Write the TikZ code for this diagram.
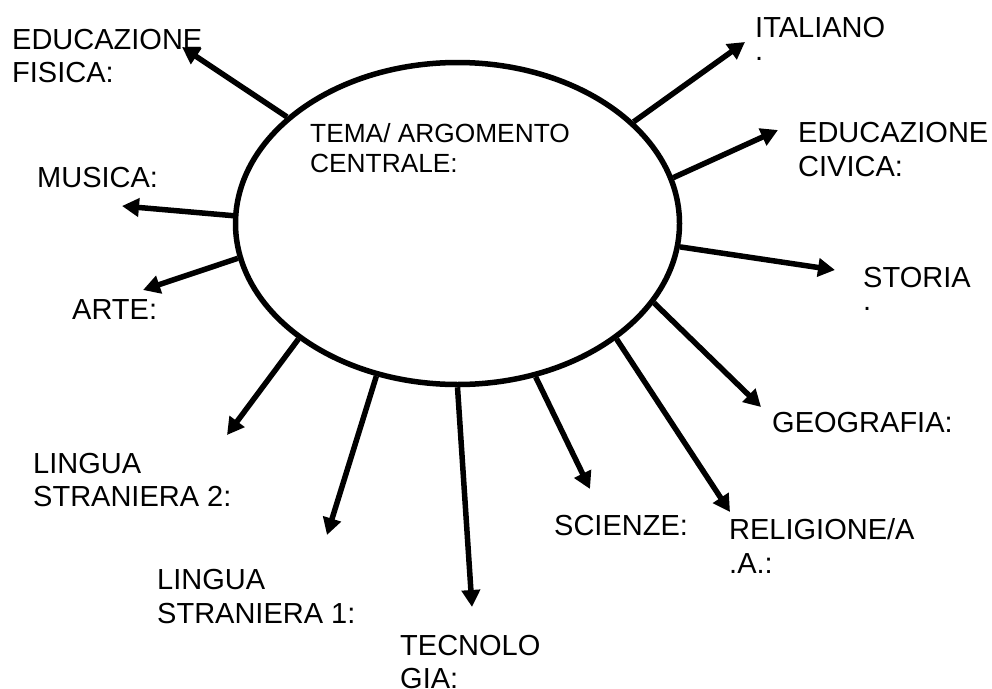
\documentclass[tikz,border=0pt]{standalone}
\usepackage{fontspec}
\setmainfont{Liberation Sans}
\usetikzlibrary{arrows.meta,shapes.geometric}
\tikzset{
    freccia/.style={line width=5.5pt,-{Triangle[length=17pt,width=18pt]}},
    voce/.style={anchor=base west,align=left,inner sep=0pt,font=\fontsize{29}{33.5}\selectfont},
}
\begin{document}
\begin{tikzpicture}[x=1pt,y=-1pt]
    \useasboundingbox (0,0) rectangle (992,688);

    % Central ellipse and its title (base = last line)
    \node[draw,ellipse,line width=5.5pt,minimum width=444pt,minimum height=322pt,inner sep=0pt] (tema) at (457.5,223.5) {};
    \node[voce,font=\fontsize{26.3}{30}\selectfont] (titolo) at (310,172.7) {TEMA/ ARGOMENTO\\CENTRALE:};

    % Subject labels
    \node[voce] (edfisica) at (12,82.7) {EDUCAZIONE\\FISICA:};
    \node[voce] (musica) at (37,187) {MUSICA:};
    \node[voce] (arte) at (72,319) {ARTE:};
    \node[voce] (lingua2) at (33,506.5) {LINGUA\\STRANIERA 2:};
    \node[voce] (lingua1) at (157,623) {LINGUA\\STRANIERA 1:};
    \node[voce] (tecnologia) at (400,688.5) {TECNOLO\\GIA:};
    \node[voce] (scienze) at (554,535) {SCIENZE:};
    \node[voce] (religione) at (729,573) {RELIGIONE/A\\.A.:};
    \node[voce] (geografia) at (772,432) {GEOGRAFIA:};
    \node[voce] (storia) at (863,320.5) {STORIA\\\raisebox{10pt}{.}};
    \node[voce] (edcivica) at (798,176) {EDUCAZIONE\\CIVICA:};
    \node[voce] (italiano) at (755,70.5) {ITALIANO\\\raisebox{10pt}{.}};

    % Arrow tips
    \coordinate (pEF) at (182,47);
    \coordinate (pMU) at (122,206);
    \coordinate (pAR) at (143,290);
    \coordinate (pL2) at (227,435);
    \coordinate (pL1) at (327,535);
    \coordinate (pTE) at (472,607);
    \coordinate (pSC) at (590,489);
    \coordinate (pRE) at (730,512);
    \coordinate (pGE) at (761,407);
    \coordinate (pST) at (835,270);
    \coordinate (pEC) at (778,130);
    \coordinate (pIT) at (745,42);

    % Draw 12 arrows out of the ellipse
    \foreach \ang/\punta in {148/pEF,178/pMU,189/pAR,216/pL2,242/pL1,270/pTE,297/pSC,324/pRE,338/pGE,354/pST,12/pEC,30/pIT} {
        \draw[freccia] (tema.\ang) -- (\punta);
    }
\end{tikzpicture}
\end{document}
